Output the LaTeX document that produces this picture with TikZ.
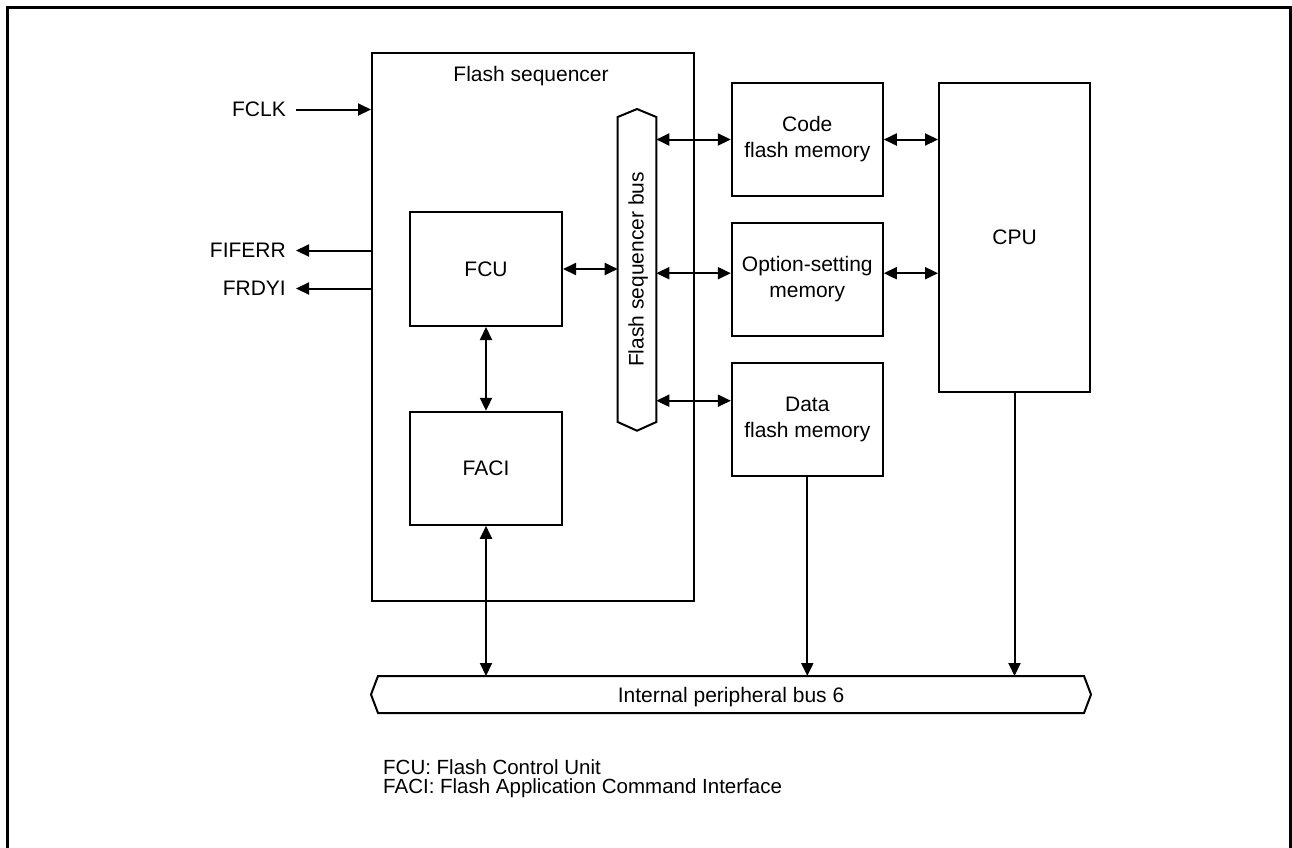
\documentclass[tikz,border=0pt]{standalone}
\usepackage{fontspec}
\setmainfont{Liberation Sans}
\usetikzlibrary{arrows.meta,calc}
\begin{document}
\begin{tikzpicture}[x=1pt,y=-1pt,
  txt/.style={font=\fontsize{21}{26}\selectfont},
  box/.style={draw, line width=2pt, inner sep=0pt, align=center, txt},
  arr/.style={line width=2pt, -{Triangle[length=13pt,width=12pt]}},
  biarr/.style={line width=2pt, {Triangle[length=13pt,width=12pt]}-{Triangle[length=13pt,width=12pt]}},
  note/.style={anchor=base west, inner sep=0pt, font=\fontsize{20.5}{20}\selectfont}]
\useasboundingbox (0,0) rectangle (1292,847);
% outer frame
\draw[line width=3pt] (7.5,852) -- (7.5,7.5) -- (1290,7.5) -- (1290,852);

% flash sequencer
\node[box, minimum width=321.5pt, minimum height=548pt] (fs) at (532.75,326.5) {};
\node[anchor=base, txt] (fstitle) at ([xshift=-1.7pt,yshift=-30.2pt]fs.north) {Flash sequencer};

\node[box, minimum width=152pt, minimum height=114pt] (fcu) at (486,269) {FCU};
\node[box, minimum width=152pt, minimum height=113pt] (faci) at (486,468.3) {FACI};

% flash sequencer bus
\draw[line width=2pt, fill=white] (637,109) -- (656.3,117) -- (656.3,422) -- (637,430.7) -- (617.7,422) -- (617.7,117) -- cycle;
\coordinate (busL) at (617.7,269);
\coordinate (busR) at (656.3,269);
\node[rotate=90, anchor=base, txt] (fsbus) at (643.5,269.5) {Flash sequencer bus};

% memories and CPU
\node[box, minimum width=151pt, minimum height=113pt] (code) at (807.3,139.5) {Code\\flash memory};
\node[box, minimum width=151pt, minimum height=113pt] (opt) at (807.3,279.2) {Option-setting\\memory};
\node[box, minimum width=151pt, minimum height=113pt] (data) at (807.3,419.3) {Data\\flash memory};
\node[box, minimum width=151pt, minimum height=309.5pt] (cpu) at (1014.5,237.5) {CPU};

% internal peripheral bus 6
\draw[line width=2pt] (371,694.5) -- (378,676) -- (1084,676) -- (1091,694.5) -- (1084,713) -- (378,713) -- cycle;
\coordinate (ipbT) at (731,676);
\node[anchor=base, txt] (ipb) at (731,702) {Internal peripheral bus 6};

% signals
\node[anchor=east, inner sep=0pt, txt] (fclk) at (286,109.5) {FCLK};
\node[anchor=east, inner sep=0pt, txt] (fiferr) at (286,250.5) {FIFERR};
\node[anchor=east, inner sep=0pt, txt] (frdyi) at (286,288.5) {FRDYI};
\draw[arr] ([xshift=10pt]fclk.east) -- (fclk.east -| fs.west);
\draw[arr] (fiferr.east -| fs.west) -- ([xshift=10pt]fiferr.east);
\draw[arr] (frdyi.east -| fs.west) -- ([xshift=10pt]frdyi.east);

% connectors
\draw[biarr] (fcu.east) -- (fcu.east -| busL);
\draw[biarr] (fcu.south) -- (faci.north);
\draw[biarr] (faci.south) -- (faci.south |- ipbT);
\draw[biarr] (code.west -| busR) -- (code.west);
\draw[biarr] ([yshift=6pt]opt.west -| busR) -- ([yshift=6pt]opt.west);
\draw[biarr] ([yshift=18.6pt]data.west -| busR) -- ([yshift=18.6pt]data.west);
\draw[biarr] (code.east) -- (code.east -| cpu.west);
\draw[biarr] ([yshift=6pt]opt.east) -- ([yshift=6pt]opt.east -| cpu.west);
\draw[arr] (data.south) -- (data.south |- ipbT);
\draw[arr] (cpu.south) -- (cpu.south |- ipbT);

% notes
\node[note] (n1) at (383,774) {FCU: Flash Control Unit};
\node[note] (n2) at (383,793.3) {FACI: Flash Application Command Interface};
\end{tikzpicture}
\end{document}
